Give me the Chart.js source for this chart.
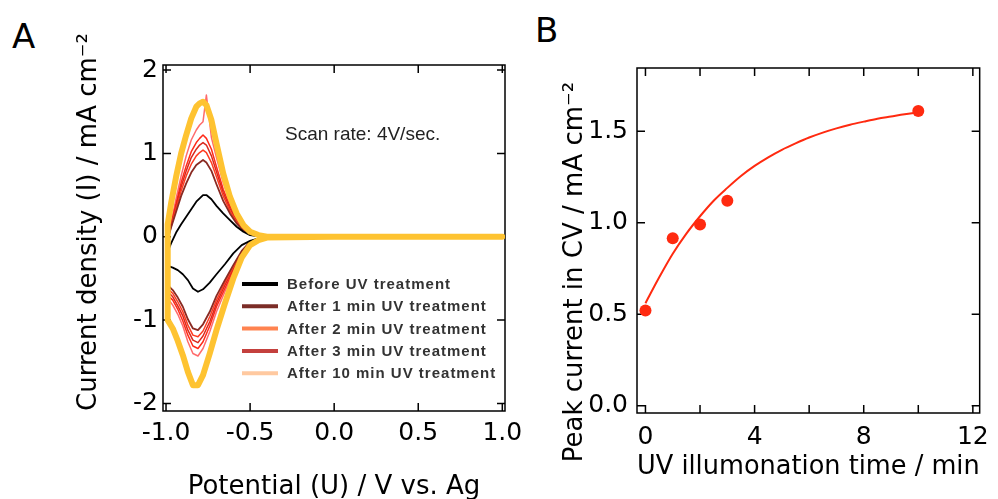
<!DOCTYPE html>
<html>
<head>
<meta charset="utf-8">
<script src="https://cdn.jsdelivr.net/npm/chart.js@4.4.1/dist/chart.umd.min.js"></script>
<style>
  html, body { margin: 0; padding: 0; background: #fff; }
  body { width: 998px; height: 499px; position: relative; overflow: hidden; }
  canvas { position: absolute; top: 0; }
  #cv { left: 0; }
  #peak { left: 526px; }
  .panel { position: absolute; font: 34px "DejaVu Sans", sans-serif; line-height: 1; color: #000; }
</style>
</head>
<body>
<div class="panel" style="left:12px; top:19px;">A</div>
<div class="panel" style="left:535px; top:13px;">B</div>
<canvas id="cv" width="530" height="499"></canvas>
<canvas id="peak" width="472" height="499"></canvas>
<script>
// ---- panel A : cyclic voltammograms ----
// potential of each sampled point: forward scan then reverse scan
const potential = [
  -0.99, -0.97, -0.94, -0.91, -0.88, -0.85, -0.82, -0.80, -0.78, -0.76, -0.73,
  -0.70, -0.66, -0.62, -0.58, -0.54, -0.50, -0.45, -0.40, 0.0, 0.5, 1.0,
  0.5, 0.0, -0.40, -0.45, -0.50, -0.55, -0.60, -0.65, -0.70, -0.74, -0.78,
  -0.81, -0.84, -0.87, -0.90, -0.93, -0.96, -0.99
];
const currentBefore = [
  -0.18, -0.08, 0.05, 0.15, 0.24, 0.33, 0.42, 0.46, 0.50, 0.50, 0.45,
  0.37, 0.28, 0.20, 0.12, 0.06, 0.02, 0.005, 0, 0, 0, 0,
  0, 0, 0, -0.02, -0.05, -0.10, -0.20, -0.33, -0.45, -0.55, -0.63,
  -0.66, -0.62, -0.52, -0.45, -0.40, -0.37, -0.35
];
const current1min = [
  -0.03, 0.11, 0.30, 0.49, 0.64, 0.77, 0.86, 0.89, 0.92, 0.89, 0.79,
  0.63, 0.43, 0.28, 0.16, 0.07, 0.03, 0.01, 0, 0, 0, 0,
  0, 0, 0, -0.02, -0.06, -0.17, -0.34, -0.52, -0.71, -0.90, -1.05,
  -1.12, -1.10, -0.99, -0.84, -0.73, -0.64, -0.58
];
const current2min = [
  -0.03, 0.12, 0.34, 0.55, 0.73, 0.87, 0.97, 1.01, 1.04, 1.01, 0.89,
  0.72, 0.49, 0.31, 0.18, 0.08, 0.03, 0.01, 0, 0, 0, 0,
  0, 0, 0, -0.02, -0.06, -0.18, -0.36, -0.55, -0.76, -0.96, -1.13,
  -1.20, -1.18, -1.06, -0.90, -0.78, -0.68, -0.62
];
const current3min = [
  -0.03, 0.14, 0.37, 0.60, 0.79, 0.95, 1.05, 1.10, 1.13, 1.10, 0.97,
  0.78, 0.53, 0.34, 0.19, 0.09, 0.03, 0.01, 0, 0, 0, 0,
  0, 0, 0, -0.03, -0.06, -0.19, -0.38, -0.58, -0.80, -1.02, -1.19,
  -1.27, -1.24, -1.12, -0.95, -0.83, -0.72, -0.66
];
// intermediate scans drawn in the figure but not listed in its legend
const currentScanA = [
  -0.04, 0.15, 0.40, 0.65, 0.85, 1.02, 1.13, 1.18, 1.22, 1.18, 1.05,
  0.84, 0.57, 0.37, 0.21, 0.10, 0.04, 0.01, 0, 0, 0, 0,
  0, 0, 0, -0.03, -0.07, -0.20, -0.40, -0.62, -0.84, -1.07, -1.26,
  -1.34, -1.31, -1.18, -1.01, -0.87, -0.76, -0.70
];
const currentScanB = [
  -0.04, 0.17, 0.46, 0.73, 0.97, 1.16, 1.28, 1.34, 1.38, 1.70, 1.19,
  0.95, 0.65, 0.41, 0.23, 0.11, 0.04, 0.01, 0, 0, 0, 0,
  0, 0, 0, -0.03, -0.07, -0.21, -0.43, -0.66, -0.90, -1.14, -1.34,
  -1.43, -1.40, -1.26, -1.07, -0.93, -0.82, -0.74
];
const current10min = [
  0.15, 0.40, 0.72, 1.00, 1.22, 1.42, 1.56, 1.60, 1.62, 1.58, 1.40,
  1.12, 0.76, 0.48, 0.28, 0.14, 0.06, 0.02, 0, 0, 0, 0,
  0, 0, -0.01, -0.04, -0.10, -0.25, -0.50, -0.80, -1.12, -1.40, -1.66,
  -1.78, -1.78, -1.62, -1.42, -1.25, -1.10, -1.00
];
const cvPotTicks = [-1.0, -0.5, 0.0, 0.5, 1.0];
const cvCurTicks = [-2, -1, 0, 1, 2];
const legendLabels = [
  'Before UV treatment',
  'After 1 min UV treatment',
  'After 2 min UV treatment',
  'After 3 min UV treatment',
  'After 10 min UV treatment'
];
const legendColors = ['#000000', '#7b2d27', '#ff8350', '#c4403d', '#ffc9a0'];
const scanRateNote = 'Scan rate: 4V/sec.';

// ---- panel B : peak current vs illumination time ----
const uvTime = [0, 1, 2, 3, 10];
const peakCurrent = [0.52, 0.915, 0.99, 1.12, 1.61];
const fitTime = [0, 0.5, 1, 1.5, 2, 2.5, 3, 3.5, 4, 4.5, 5, 5.5, 6, 6.5, 7, 7.5, 8, 8.5, 9, 9.5, 10];
const fitCurrent = [
  0.56, 0.70, 0.83, 0.94, 1.035, 1.12, 1.19, 1.255, 1.31, 1.357, 1.398,
  1.433, 1.465, 1.492, 1.515, 1.535, 1.552, 1.568, 1.58, 1.592, 1.602
];
const timeTicks = [0, 2, 4, 6, 8, 10, 12];
const peakTicks = [0.0, 0.5, 1.0, 1.5];

const tickFont = { family: '"DejaVu Sans", sans-serif', size: 25 };
const titleFont = { family: '"DejaVu Sans", sans-serif', size: 26 };

// box round the plot with inward ticks on all four sides
const frame = {
  id: 'frame',
  beforeDatasetsDraw(chart) {
    const { ctx, chartArea: a, scales: { x, y } } = chart;
    const len = 8;
    ctx.save();
    ctx.strokeStyle = '#000';
    ctx.lineWidth = 1.5;
    ctx.strokeRect(a.left, a.top, a.right - a.left, a.bottom - a.top);
    ctx.beginPath();
    x.ticks.forEach(t => {
      const px = x.getPixelForValue(t.value);
      ctx.moveTo(px, a.bottom); ctx.lineTo(px, a.bottom - len);
      ctx.moveTo(px, a.top); ctx.lineTo(px, a.top + len);
    });
    y.ticks.forEach(t => {
      const py = y.getPixelForValue(t.value);
      ctx.moveTo(a.left, py); ctx.lineTo(a.left + len, py);
      ctx.moveTo(a.right, py); ctx.lineTo(a.right - len, py);
    });
    ctx.stroke();
    ctx.restore();
  }
};

// rotated y axis title, placed where the original has it
const yTitle = {
  id: 'yTitle',
  afterDraw(chart, args, opts) {
    const { ctx } = chart;
    ctx.save();
    ctx.translate(opts.x, opts.y);
    ctx.rotate(-Math.PI / 2);
    ctx.font = '26px "DejaVu Sans", sans-serif';
    ctx.fillStyle = '#000';
    ctx.textAlign = 'center';
    ctx.textBaseline = 'middle';
    ctx.fillText(opts.text, 0, 0);
    ctx.restore();
  }
};

// scan rate note and the legend inside panel A
const cvNotes = {
  id: 'cvNotes',
  afterDraw(chart) {
    const { ctx, chartArea: a } = chart;
    ctx.save();
    ctx.textBaseline = 'middle';
    ctx.fillStyle = '#222';
    ctx.font = '19px "Liberation Sans", Arial, sans-serif';
    ctx.fillText(scanRateNote, a.left + 122, 135);
    ctx.font = 'bold 15px "Liberation Sans", Arial, sans-serif';
    ctx.letterSpacing = '1px';
    legendLabels.forEach((lab, i) => {
      const yy = 284 + i * 22.3;
      ctx.strokeStyle = legendColors[i];
      ctx.lineWidth = 4;
      ctx.beginPath();
      ctx.moveTo(a.left + 79, yy);
      ctx.lineTo(a.left + 115, yy);
      ctx.stroke();
      ctx.fillStyle = '#333';
      ctx.fillText(lab, a.left + 124, yy + 1);
    });
    ctx.restore();
  }
};

function loop(cur) {
  const pts = potential.map((u, i) => ({ x: u, y: cur[i] }));
  pts.push(pts[0]);
  return pts;
}

const cvCurves = [
  { label: legendLabels[4], data: current10min, color: '#fec331', width: 6 },
  { label: legendLabels[0], data: currentBefore, color: '#000000', width: 1.8 },
  { label: legendLabels[1], data: current1min, color: '#8a2a22', width: 1.8 },
  { label: legendLabels[2], data: current2min, color: '#ff3b20', width: 1.5 },
  { label: legendLabels[3], data: current3min, color: '#d8281c', width: 1.5 },
  { label: 'scan A', data: currentScanA, color: '#ff2a18', width: 1.5 },
  { label: 'scan B', data: currentScanB, color: '#ff6b6b', width: 1.5 }
];

new Chart(document.getElementById('cv'), {
  type: 'line',
  data: {
    datasets: cvCurves.map(c => ({
      label: c.label,
      data: loop(c.data),
      borderColor: c.color,
      borderWidth: c.width,
      pointRadius: 0,
      tension: 0,
      borderJoinStyle: 'round',
      borderCapStyle: 'round'
    }))
  },
  options: {
    responsive: false,
    animation: false,
    layout: { padding: { left: 69, top: 65, right: 25, bottom: 0 } },
    plugins: {
      legend: { display: false },
      tooltip: { enabled: false },
      yTitle: { text: 'Current density (I) / mA cm⁻²', x: 89, y: 222 }
    },
    scales: {
      x: {
        type: 'linear', min: -1.018, max: 1.016,
        grid: { display: false, drawTicks: false },
        border: { display: false },
        afterBuildTicks: s => { s.ticks = cvPotTicks.map(v => ({ value: v })); },
        afterFit: s => { s.height = 88; },
        ticks: { padding: 7, font: tickFont, color: '#000', maxRotation: 0, callback: v => v.toFixed(1) },
        title: { display: true, text: 'Potential (U) / V vs. Ag', font: titleFont, color: '#000', padding: { top: 4, bottom: -4 } }
      },
      y: {
        type: 'linear', min: -2.09, max: 2.06,
        grid: { display: false, drawTicks: false },
        border: { display: false },
        afterBuildTicks: s => { s.ticks = cvCurTicks.map(v => ({ value: v })); },
        afterFit: s => { s.width = 94; },
        ticks: { padding: 5, font: tickFont, color: '#000', callback: v => String(v) }
      }
    }
  },
  plugins: [frame, cvNotes, yTitle]
});

new Chart(document.getElementById('peak'), {
  type: 'line',
  data: {
    datasets: [
      {
        label: 'Peak current',
        data: uvTime.map((t, i) => ({ x: t, y: peakCurrent[i] })),
        showLine: false,
        pointRadius: 6,
        pointBackgroundColor: '#ff2a10',
        pointBorderColor: '#ff2a10',
        pointBorderWidth: 0
      },
      {
        label: 'Fit',
        data: fitTime.map((t, i) => ({ x: t, y: fitCurrent[i] })),
        borderColor: '#ff2a10',
        borderWidth: 2,
        pointRadius: 0,
        tension: 0.4,
        cubicInterpolationMode: 'monotone'
      }
    ]
  },
  options: {
    responsive: false,
    animation: false,
    layout: { padding: { left: 25, top: 68, right: 12, bottom: 12 } },
    plugins: {
      legend: { display: false },
      tooltip: { enabled: false },
      yTitle: { text: 'Peak current in CV / mA cm⁻²', x: 49, y: 272 }
    },
    scales: {
      x: {
        type: 'linear', min: -0.31, max: 12.25,
        grid: { display: false, drawTicks: false },
        border: { display: false },
        afterBuildTicks: s => { s.ticks = timeTicks.map(v => ({ value: v })); },
        afterFit: s => { s.height = 74; },
        ticks: { padding: 9, font: tickFont, color: '#000', maxRotation: 0, callback: v => (v % 4 === 0 ? String(v) : '') },
        title: { display: true, text: 'UV illumonation time / min', font: titleFont, color: '#000' }
      },
      y: {
        type: 'linear', min: -0.04, max: 1.845,
        grid: { display: false, drawTicks: false },
        border: { display: false },
        afterBuildTicks: s => { s.ticks = peakTicks.map(v => ({ value: v })); },
        afterFit: s => { s.width = 86; },
        ticks: { padding: 9, font: tickFont, color: '#000', callback: v => v.toFixed(1) }
      }
    }
  },
  plugins: [frame, yTitle]
});
</script>
</body>
</html>
